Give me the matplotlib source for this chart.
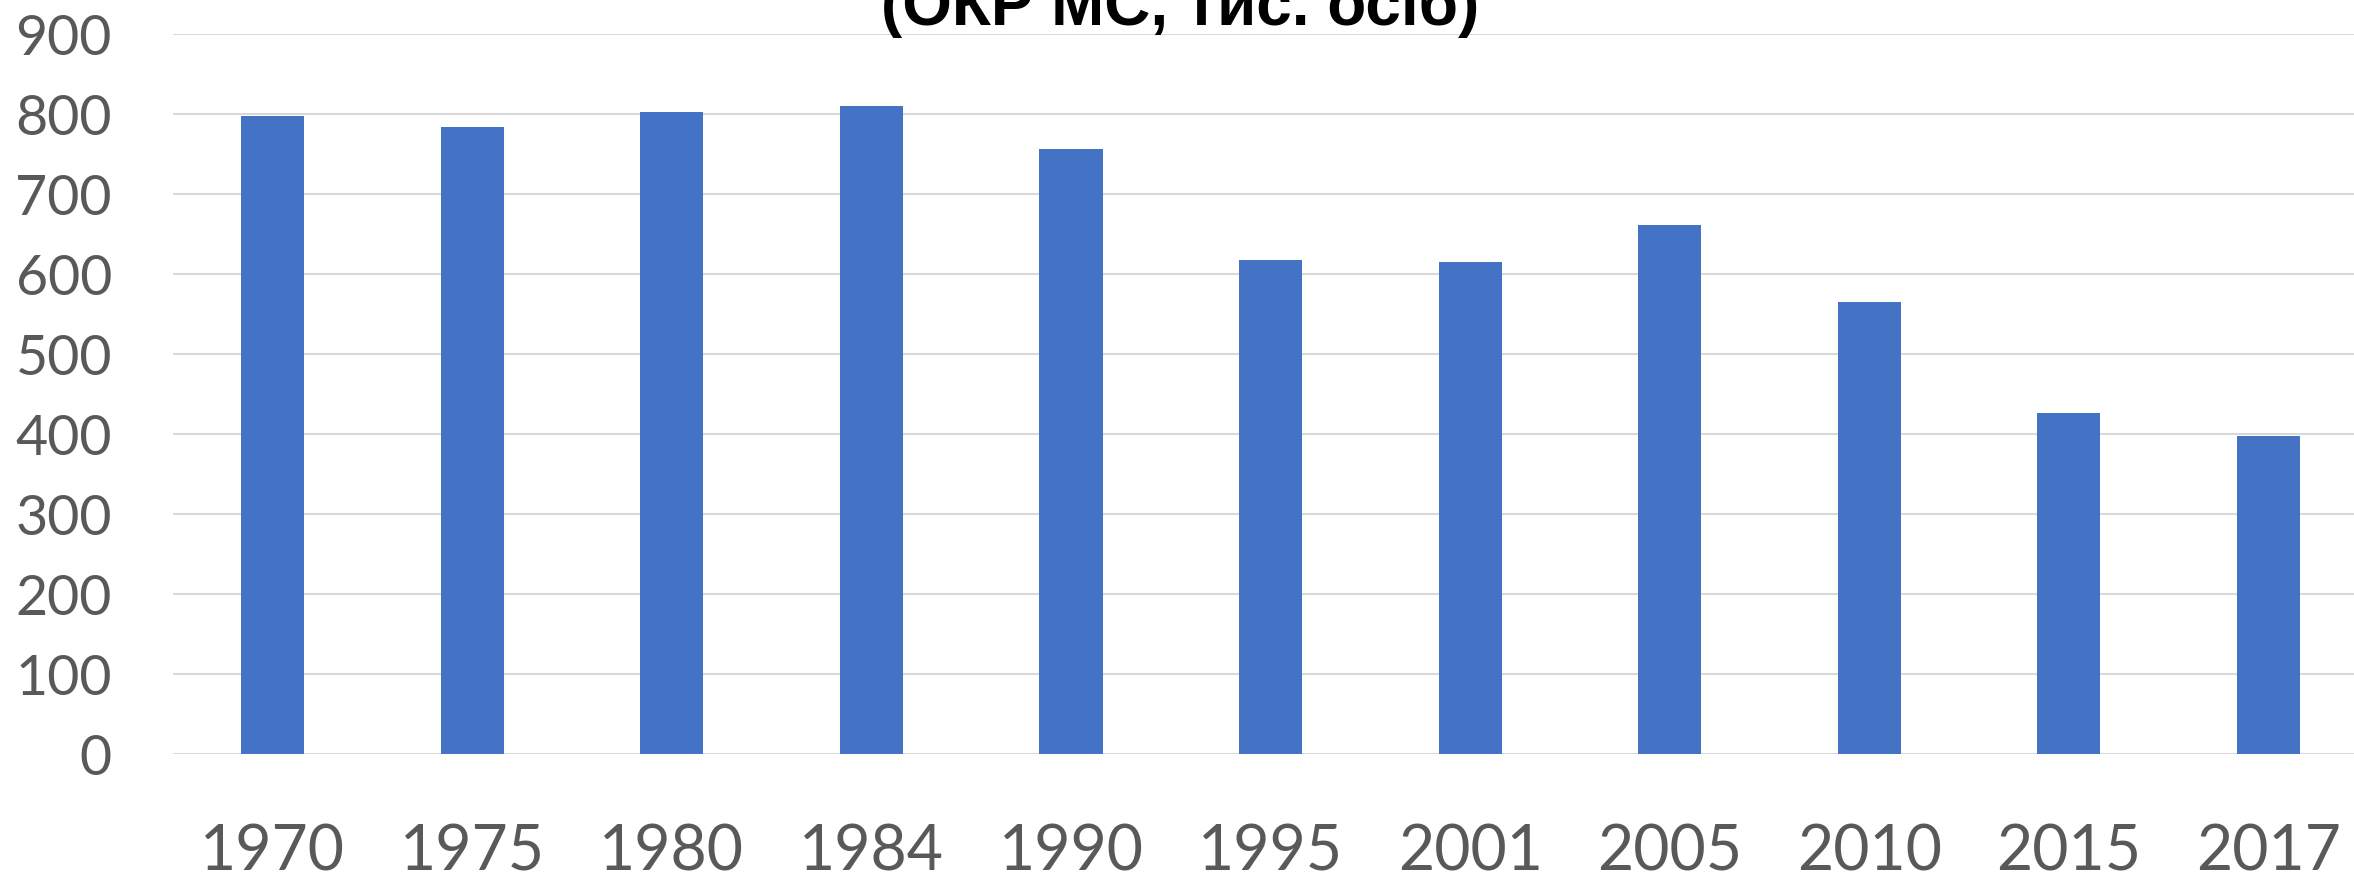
import matplotlib
matplotlib.use("Agg")
import matplotlib.pyplot as plt

# Data
years = ["1970", "1975", "1980", "1984", "1990", "1995", "2001", "2005", "2010", "2015", "2017"]
values = [798, 784, 803, 810, 757, 618, 615, 662, 566, 427, 398]
y_ticks = [0, 100, 200, 300, 400, 500, 600, 700, 800, 900]
title = "(ОКР МС, тис. осіб)"

fig = plt.figure(figsize=(23.54, 8.77), dpi=100)
ax = fig.add_axes([0.0735, 0.140, 0.9325, 0.8207])

x = range(len(years))
ax.bar(x, values, width=0.316, color="#4472C4", zorder=3)

ax.set_xlim(-0.5, len(years) - 0.5)
ax.set_ylim(0, 900)
ax.set_yticks(y_ticks)
ax.set_xticks(list(x))
ax.set_xticklabels(years)

ax.grid(axis="y", color="#d9d9d9", linewidth=1.5, zorder=0)
for s in ax.spines.values():
    s.set_visible(False)
ax.tick_params(axis="both", length=0, colors="#595959")
ax.tick_params(axis="y", labelsize=40, pad=44)
ax.tick_params(axis="x", labelsize=45, pad=50)
for lbl in ax.get_xticklabels() + ax.get_yticklabels():
    lbl.set_fontfamily("Lato")

# title is cut off at the top edge in the original
fig.text(0.5015, 0.972, title, ha="center", va="baseline",
         fontsize=46, fontweight="bold", family="Liberation Sans")

fig.savefig("out.png", dpi=100)
